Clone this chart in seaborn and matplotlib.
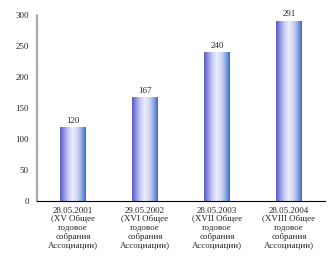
import matplotlib
matplotlib.use("Agg")
import matplotlib.pyplot as plt
import seaborn as sns
import numpy as np
import pandas as pd
from matplotlib.colors import LinearSegmentedColormap

dates = ["28.05.2001", "29.05.2002", "28.05.2003", "28.05.2004"]
meetings = ["(XV Общее", "(XVI Общее", "(XVII Общее", "(XVIII Общее"]
values = [120, 167, 240, 291]
yticks = [0, 50, 100, 150, 200, 250, 300]

labels = [f"{d}\n{m}\nгодовое\nсобрания\nАссоциации)" for d, m in zip(dates, meetings)]
df = pd.DataFrame({"label": labels, "value": values})

sns.set_style("white")
plt.rcParams["font.family"] = ["Liberation Serif", "DejaVu Serif"]

fig = plt.figure(figsize=(3.36, 2.70), dpi=100)
ax = fig.add_axes([37/336, (270-201)/270, (325-37)/336, (201-15)/270])

sns.barplot(data=df, x="label", y="value", color="#c0c8f0", width=0.36,
            ax=ax, saturation=1, edgecolor="none")

cmap = LinearSegmentedColormap.from_list("bar", [
    (0.0, "#5a5cc0"), (0.12, "#8488d8"), (0.3, "#c4c8f0"), (0.5, "#eeeefc"),
    (0.7, "#c8d2f2"), (0.85, "#84a8e6"), (1.0, "#4a64c8")])
grad = np.linspace(0, 1, 64)[None, :]
for p in ax.patches:
    x0, y0 = p.get_x(), p.get_y()
    w, h = p.get_width(), p.get_height()
    im = ax.imshow(grad, cmap=cmap, aspect="auto", extent=(x0, x0 + w, y0, y0 + h),
                   zorder=p.get_zorder() + 0.1, interpolation="bicubic")
    im.set_clip_path(p)

ax.bar_label(ax.containers[0], labels=[str(v) for v in values], fontsize=6.5, padding=1.5)

ax.set_xlim(-0.5, 3.5)
ax.set_ylim(0, 300)
ax.set_yticks(yticks)
ax.set_yticklabels([str(t) for t in yticks], fontsize=6.5)
ax.set_xlabel("")
ax.set_ylabel("")
ax.tick_params(axis="x", length=0, labelsize=6.5, pad=4)
ax.tick_params(axis="y", direction="in", length=4, color="#999999", pad=6)
ax.get_yticklines()[-2].set_color("black")
ax.set_xticks([3.5], minor=True)
ax.tick_params(axis="x", which="minor", direction="in", length=3, color="black", width=0.8)

for s in ["top", "right"]:
    ax.spines[s].set_visible(False)
ax.spines["left"].set_color("#aaaaaa")
ax.spines["left"].set_linestyle((0, (1, 0.5)))
ax.spines["left"].set_linewidth(1.6)
ax.spines["bottom"].set_color("black")
ax.spines["bottom"].set_linewidth(0.8)

for t in ax.get_xticklabels():
    t.set_linespacing(1.15)

fig.savefig("out.png", dpi=100)
